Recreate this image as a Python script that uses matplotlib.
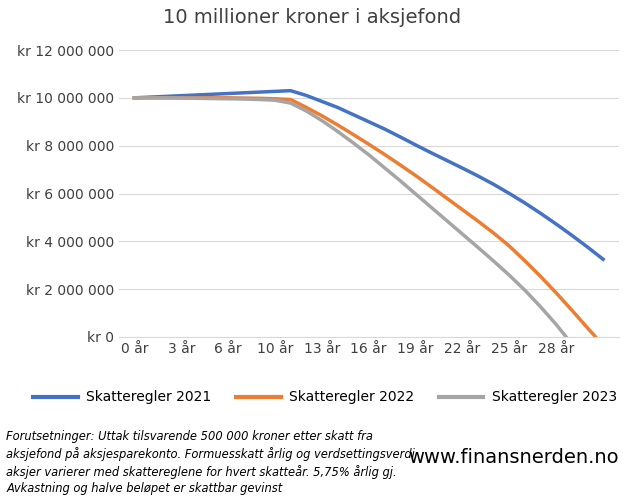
import numpy as np
import matplotlib
matplotlib.use("Agg")
import matplotlib.pyplot as plt
from matplotlib.ticker import FuncFormatter

# verdier i millioner kroner, år 0..30
years = list(range(31))
regler_2021 = [10.0, 10.03, 10.06, 10.09, 10.12, 10.15, 10.18, 10.21, 10.24, 10.27, 10.3,
               10.1, 9.85, 9.6, 9.3, 9.0, 8.7, 8.37, 8.03, 7.7, 7.38,
               7.06, 6.73, 6.38, 6.0, 5.6, 5.17, 4.72, 4.25, 3.76, 3.25]
regler_2022 = [10.0, 10.0, 10.0, 10.0, 10.0, 10.0, 10.0, 9.99, 9.98, 9.96, 9.93,
               9.6, 9.25, 8.87, 8.47, 8.06, 7.64, 7.2, 6.75, 6.28, 5.8,
               5.32, 4.84, 4.34, 3.8, 3.18, 2.53, 1.84, 1.12, 0.38, -0.35]
regler_2023 = [10.0, 10.0, 10.0, 9.99, 9.98, 9.97, 9.96, 9.95, 9.93, 9.9, 9.78,
               9.45, 9.05, 8.6, 8.12, 7.62, 7.08, 6.54, 5.98, 5.42, 4.86,
               4.3, 3.74, 3.17, 2.58, 1.95, 1.26, 0.52, -0.3]
tick_pos = [0, 3, 6, 9, 12, 15, 18, 21, 24, 27]
tick_labels = ["0 år", "3 år", "6 år", "10 år", "13 år", "16 år", "19 år", "22 år", "25 år", "28 år"]

fig = plt.figure(figsize=(6.25, 5), dpi=100)
ax = fig.add_axes([0.19, 0.326, 0.80, 0.574])

ax.plot(years, np.array(regler_2021) * 1e6, color="#4472C4", lw=2.5, label="Skatteregler 2021")
ax.plot(years, np.array(regler_2022) * 1e6, color="#ED7D31", lw=2.5, label="Skatteregler 2022")
ax.plot(years[:len(regler_2023)], np.array(regler_2023) * 1e6, color="#A5A5A5", lw=2.5,
        label="Skatteregler 2023")

ax.set_ylim(0, 12e6)
ax.set_xlim(-1, 31)
ax.set_yticks(np.arange(0, 12.1e6, 2e6))
ax.yaxis.set_major_formatter(FuncFormatter(lambda v, p: "kr " + f"{int(v):,}".replace(",", " ")))
ax.set_xticks(tick_pos)
ax.set_xticklabels(tick_labels)
ax.tick_params(length=0, labelsize=10, colors="#404040")
ax.grid(axis="y", color="#D9D9D9", lw=0.8)
for s in ["top", "right", "left"]:
    ax.spines[s].set_visible(False)
ax.spines["bottom"].set_color("#D9D9D9")
ax.set_axisbelow(True)

fig.text(0.5, 0.965, "10 millioner kroner i aksjefond", ha="center", va="center",
         fontsize=14, color="#404040")
fig.legend(loc="center", bbox_to_anchor=(0.52, 0.205), ncol=3, frameon=False,
           fontsize=10, handlelength=3.2, columnspacing=1.8, handletextpad=0.6)
for h in fig.legends[0].get_lines():
    h.set_linewidth(3)

fig.text(0.01, 0.075, "Forutsetninger: Uttak tilsvarende 500 000 kroner etter skatt fra\n"
         "aksjefond på aksjesparekonto. Formuesskatt årlig og verdsettingsverdi\n"
         "aksjer varierer med skattereglene for hvert skatteår. 5,75% årlig gj.\n"
         "Avkastning og halve beløpet er skattbar gevinst",
         ha="left", va="center", fontsize=8.3, style="italic", linespacing=1.35)
fig.text(0.99, 0.085, "www.finansnerden.no", ha="right", va="center", fontsize=14)

fig.savefig("out.png", dpi=100)
